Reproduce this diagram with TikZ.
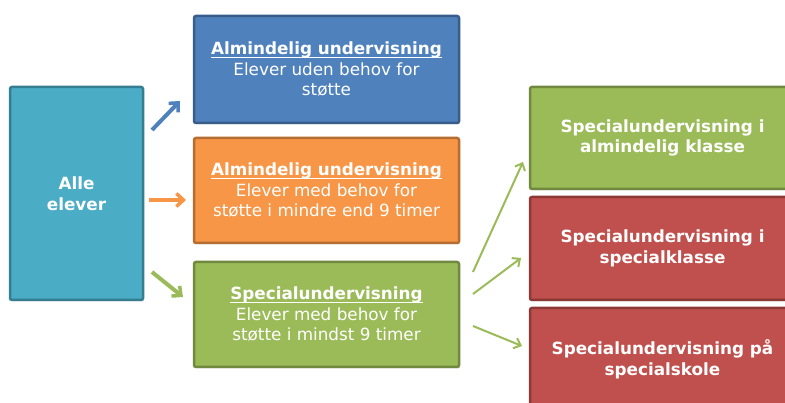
\documentclass[tikz,border=0pt]{standalone}
\usepackage{fontspec}
\setmainfont{DejaVu Sans}
\usetikzlibrary{arrows.meta,shadows}

\definecolor{tealfill}{HTML}{4BACC6}
\definecolor{tealline}{HTML}{357D91}
\definecolor{bluefill}{HTML}{4F81BD}
\definecolor{blueline}{HTML}{385D8A}
\definecolor{orangefill}{HTML}{F79646}
\definecolor{orangeline}{HTML}{B66D31}
\definecolor{greenfill}{HTML}{9BBB59}
\definecolor{greenline}{HTML}{71893F}
\definecolor{redfill}{HTML}{C0504D}
\definecolor{redline}{HTML}{8C3836}

% underline close to the baseline
\newcommand\undl[1]{\setbox0\hbox{#1}\rlap{\rule[-3pt]{\wd0}{1.2pt}}\box0}

\begin{document}
\begin{tikzpicture}[x=1pt,y=-1pt,
    box/.style={draw,line width=2.5pt,rounded corners=2pt,inner sep=0pt,align=center,
      text=white,font=\fontsize{16.8}{20.5}\selectfont,
      drop shadow={shadow xshift=1pt,shadow yshift=-1.5pt,opacity=0.25}},
    fat/.style={line width=4pt,-{Straight Barb[length=7pt,width=13pt,line width=3.5pt]}},
    thin/.style={line width=2pt,draw=greenfill,-{Straight Barb[length=6pt,width=11pt,line width=2pt]}}]
  \useasboundingbox (0,0) rectangle (785,403);
  \clip (0,0) rectangle (785,403);
  % left column
  \node (alle) at (76.5,193.5) [box,fill=tealfill,draw=tealline,minimum width=133pt,minimum height=213pt] {\textbf{Alle}\\\textbf{elever}};
  % middle column
  \node (ualm) at (326.5,69.5) [box,fill=bluefill,draw=blueline,minimum width=265pt,minimum height=107pt]
    {\undl{\textbf{Almindelig undervisning}}\\Elever uden behov for\\støtte};
  \node (umin) at (326.5,190.5) [box,fill=orangefill,draw=orangeline,minimum width=265pt,minimum height=105pt]
    {\undl{\textbf{Almindelig undervisning}}\\Elever med behov for\\støtte i mindre end 9 timer};
  \node (uspec) at (326.5,314.5) [box,fill=greenfill,draw=greenline,minimum width=265pt,minimum height=105pt]
    {\undl{\textbf{Specialundervisning}}\\Elever med behov for\\støtte i mindst 9 timer};
  % right column
  \node (salm) at (662.5,138) [box,fill=greenfill,draw=greenline,minimum width=265pt,minimum height=102pt]
    {\textbf{Specialundervisning i}\\\textbf{almindelig klasse}};
  \node (sklasse) at (662.5,248.5) [box,fill=redfill,draw=redline,minimum width=265pt,minimum height=103pt]
    {\textbf{Specialundervisning i}\\\textbf{specialklasse}};
  \node (sskole) at (662.5,359.5) [box,fill=redfill,draw=redline,minimum width=265pt,minimum height=103pt]
    {\textbf{Specialundervisning på}\\\textbf{specialskole}};
  % arrow ends
  \coordinate (a1) at (152,130); \coordinate (b1) at (180,101);
  \coordinate (a2) at (149,200); \coordinate (b2) at (186,200);
  \coordinate (a3) at (152,272); \coordinate (b3) at (183,297);
  \coordinate (c1) at (473,272); \coordinate (d1) at (523,162);
  \coordinate (c2) at (473,294); \coordinate (d2) at (521,258);
  \coordinate (c3) at (473,326); \coordinate (d3) at (522,346);
  \draw [fat,draw=bluefill] (a1) -- (b1);
  \draw [fat,draw=orangefill] (a2) -- (b2);
  \draw [fat,draw=greenfill] (a3) -- (b3);
  \draw [thin] (c1) -- (d1);
  \draw [thin] (c2) -- (d2);
  \draw [thin] (c3) -- (d3);
\end{tikzpicture}
\end{document}
